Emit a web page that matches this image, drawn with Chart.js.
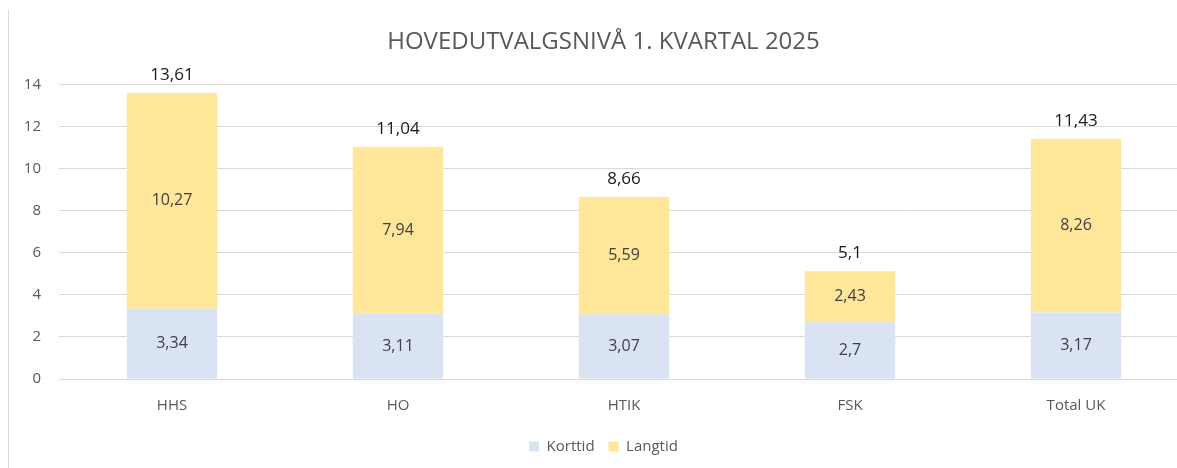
<!DOCTYPE html>
<html>
<head>
<meta charset="utf-8">
<script src="https://cdn.jsdelivr.net/npm/chart.js@4.4.1/dist/chart.umd.min.js"></script>
<style>
  html, body { margin: 0; padding: 0; background: #fff; overflow: hidden; }
  #wrap { position: relative; width: 1200px; height: 468px; }
  #edge { position: absolute; left: 8px; top: 10px; bottom: 0; border-left: 1px solid #d9d9d9; }
</style>
</head>
<body>
<div id="wrap">
  <div id="edge"></div>
  <canvas id="chart" width="1200" height="468"></canvas>
</div>
<script>
// kategorier og verdier
const categories = ['HHS', 'HO', 'HTIK', 'FSK', 'Total UK'];
const korttid = [3.34, 3.11, 3.07, 2.7, 3.17];
const langtid = [10.27, 7.94, 5.59, 2.43, 8.26];
const totals = [13.61, 11.04, 8.66, 5.1, 11.43];

const fmt = v => String(v).replace('.', ',');

// verdietiketter i og over søylene
const labelPlugin = {
  id: 'labels',
  afterDatasetsDraw(chart) {
    const ctx = chart.ctx;
    ctx.save();
    ctx.textAlign = 'center';
    ctx.textBaseline = 'middle';
    ctx.font = '16px "Open Sans", sans-serif';
    ctx.fillStyle = '#404040';
    chart.data.datasets.forEach((ds, i) => {
      chart.getDatasetMeta(i).data.forEach((bar, j) => {
        const mid = (bar.y + bar.base) / 2;
        ctx.fillText(fmt(ds.data[j]), bar.x, mid);
      });
    });
    ctx.font = '17px "Open Sans", sans-serif';
    ctx.fillStyle = '#1a1a1a';
    const top = chart.getDatasetMeta(1).data;
    top.forEach((bar, j) => {
      ctx.fillText(fmt(totals[j]), bar.x, bar.y - 18);
    });
    ctx.restore();
  }
};

const ctx = document.getElementById('chart').getContext('2d');
new Chart(ctx, {
  type: 'bar',
  data: {
    labels: categories,
    datasets: [
      { label: 'Korttid', data: korttid, backgroundColor: '#dae3f3' },
      { label: 'Langtid', data: langtid, backgroundColor: '#ffe699' }
    ]
  },
  options: {
    responsive: false,
    animation: false,
    layout: { padding: { left: 18, right: 11, top: 10, bottom: 4 } },
    datasets: { bar: { categoryPercentage: 1, barPercentage: 0.4 } },
    scales: {
      x: {
        stacked: true,
        grid: { display: false },
        border: { color: '#d9d9d9' },
        ticks: { color: '#595959', font: { size: 15, family: '"Open Sans", sans-serif' }, padding: 10 }
      },
      y: {
        stacked: true,
        min: 0,
        max: 14,
        ticks: { stepSize: 2, color: '#595959', font: { size: 15, family: '"Open Sans", sans-serif' }, padding: 18 },
        grid: { color: '#d9d9d9', drawTicks: false },
        border: { display: false },
        afterFit(scale) { scale.width = 41; }
      }
    },
    plugins: {
      title: {
        display: true,
        text: 'HOVEDUTVALGSNIVÅ 1. KVARTAL 2025',
        color: '#595959',
        font: { size: 24, weight: 'normal', family: '"Open Sans", sans-serif' },
        padding: { top: 18, bottom: 28 }
      },
      legend: {
        position: 'bottom',
        labels: { boxWidth: 10, boxHeight: 10, color: '#595959', font: { size: 15, family: '"Open Sans", sans-serif' }, padding: 14 }
      },
      tooltip: { enabled: false }
    }
  },
  plugins: [labelPlugin]
});
</script>
</body>
</html>
